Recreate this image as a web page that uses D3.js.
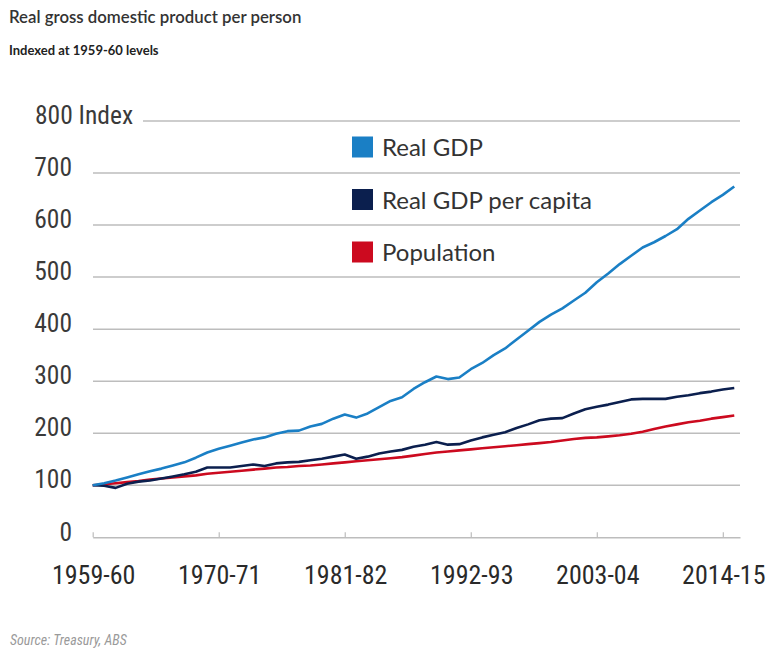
<!DOCTYPE html>
<html>
<head>
<meta charset="utf-8">
<script src="https://cdn.jsdelivr.net/npm/d3@7"></script>
<style>
  html, body { margin: 0; padding: 0; background: #fff; }
  svg { display: block; }
</style>
</head>
<body>
<svg id="chart" width="771" height="659"></svg>
<script>
// ---- data ----
const years = ["1959-60","1960-61","1961-62","1962-63","1963-64","1964-65","1965-66","1966-67","1967-68","1968-69",
  "1969-70","1970-71","1971-72","1972-73","1973-74","1974-75","1975-76","1976-77","1977-78","1978-79",
  "1979-80","1980-81","1981-82","1982-83","1983-84","1984-85","1985-86","1986-87","1987-88","1988-89",
  "1989-90","1990-91","1991-92","1992-93","1993-94","1994-95","1995-96","1996-97","1997-98","1998-99",
  "1999-00","2000-01","2001-02","2002-03","2003-04","2004-05","2005-06","2006-07","2007-08","2008-09",
  "2009-10","2010-11","2011-12","2012-13","2013-14","2014-15","2015-16"];
const realGDP = [100,104,109,115,121,127,132,138,144,153,163,170,176,182,188,192,199,204,205,213,
  218,228,236,230,238,250,262,269,285,298,309,304,307,323,335,350,363,380,397,414,
  428,440,455,470,490,507,525,541,557,567,579,592,612,628,644,658,674];
const gdpPerCapita = [100,99,95,103,107,109,113,117,121,126,134,134,134,137,140,137,142,144,145,148,
  151,155,159,151,155,161,165,168,174,178,183,178,179,186,192,197,202,210,217,225,
  228,229,238,246,251,255,260,265,266,266,266,270,273,277,280,284,287];
const population = [100,102,104,106,108,111,113,115,117,119,122,124,126,128,130,132,134,135,137,138,
  140,142,144,146,148,150,152,154,157,160,163,165,167,169,171,173,175,177,179,181,
  183,186,189,191,192,194,196,199,203,208,213,217,221,224,228,231,234];
const seriesNames = ["Real GDP", "Real GDP per capita", "Population"];
const seriesColors = ["#1a7fc5", "#0b1f4e", "#cc0a1f"];
const yTicks = [0,100,200,300,400,500,600,700,800];
const xTickLabels = ["1959-60","1970-71","1981-82","1992-93","2003-04","2014-15"];
const titleText = "Real gross domestic product per person";
const subtitleText = "Indexed at 1959-60 levels";
const sourceText = "Source: Treasury, ABS";

// ---- layout ----
const svg = d3.select("#chart");
const tickFont = "'Liberation Sans Narrow','Arial Narrow','Roboto Condensed','Liberation Sans',sans-serif";
const x = d3.scaleLinear().domain([0, 56.5]).range([92.7, 740]);
const y = d3.scaleLinear().domain([0, 800]).range([537.3, 121]);

// title
svg.append("text").attr("x", 9).attr("y", 23)
  .style("font-family", "Lato, 'Open Sans', sans-serif").style("font-size", "16.8px").style("font-weight", 600)
  .attr("fill", "#333").text(titleText);
svg.append("text").attr("x", 9).attr("y", 54.5)
  .style("font-family", "Lato, 'Open Sans', sans-serif").style("font-size", "13px").style("font-weight", 700)
  .attr("fill", "#222").text(subtitleText);

// gridlines
const grid = svg.append("g");
grid.selectAll("line").data(yTicks.filter(d => d > 0)).join("line")
  .attr("x1", d => d === 800 ? 143 : 93).attr("x2", 740)
  .attr("y1", d => y(d)).attr("y2", d => y(d))
  .attr("stroke", "#bdbdbd").attr("stroke-width", 1.5);

// y labels
const yl = svg.append("g");
yl.selectAll("text").data(yTicks).join("text")
  .attr("x", d => d === 800 ? 35 : 72)
  .attr("y", d => y(d) + (d === 0 ? 4 : 2.5))
  .attr("text-anchor", d => d === 800 ? "start" : "end")
  .style("font-family", tickFont).style("font-size", "25.5px").attr("fill", "#3a3a3a")
  .text(d => d === 800 ? "800 Index" : d);

// x axis
const xAxis = d3.axisTop(x)
  .tickValues(xTickLabels.map(l => years.indexOf(l)))
  .tickSize(5).tickSizeOuter(0).tickFormat("");
const ax = svg.append("g").attr("transform", `translate(0,${y(0)})`).call(xAxis);
ax.select(".domain").attr("stroke", "#bdbdbd").attr("stroke-width", 1.5);
ax.selectAll(".tick line").attr("stroke", "#bdbdbd").attr("stroke-width", 1.2);

svg.append("g").selectAll("text").data(xTickLabels).join("text")
  .attr("x", d => x(years.indexOf(d)) + 1)
  .attr("y", 584)
  .attr("text-anchor", "middle")
  .style("font-family", tickFont).style("font-size", "26px").attr("fill", "#2a2a2a")
  .text(d => d);

// lines
const allSeries = [realGDP, gdpPerCapita, population];
const line = d3.line().x((d, i) => x(i)).y(d => y(d));
svg.append("g").selectAll("path").data([2, 1, 0]).join("path")
  .attr("d", k => line(allSeries[k]))
  .attr("fill", "none").attr("stroke", k => seriesColors[k])
  .attr("stroke-width", 2.6).attr("stroke-linejoin", "round");

// legend
const leg = svg.append("g");
const legRows = leg.selectAll("g").data(seriesNames).join("g")
  .attr("transform", (d, i) => `translate(352,${147 + i * 52.5})`);
legRows.append("rect").attr("x", 0).attr("y", -10.5).attr("width", 21).attr("height", 21)
  .attr("fill", (d, i) => seriesColors[i]);
legRows.append("text").attr("x", 30).attr("y", 9)
  .style("font-family", "Lato, 'Open Sans', sans-serif").style("font-size", "24px")
  .attr("fill", "#333").text(d => d);

// source
svg.append("text").attr("x", 10).attr("y", 645)
  .style("font-family", tickFont).style("font-size", "14px").style("font-style", "italic")
  .attr("fill", "#9a9a9a").text(sourceText);
</script>
</body>
</html>
